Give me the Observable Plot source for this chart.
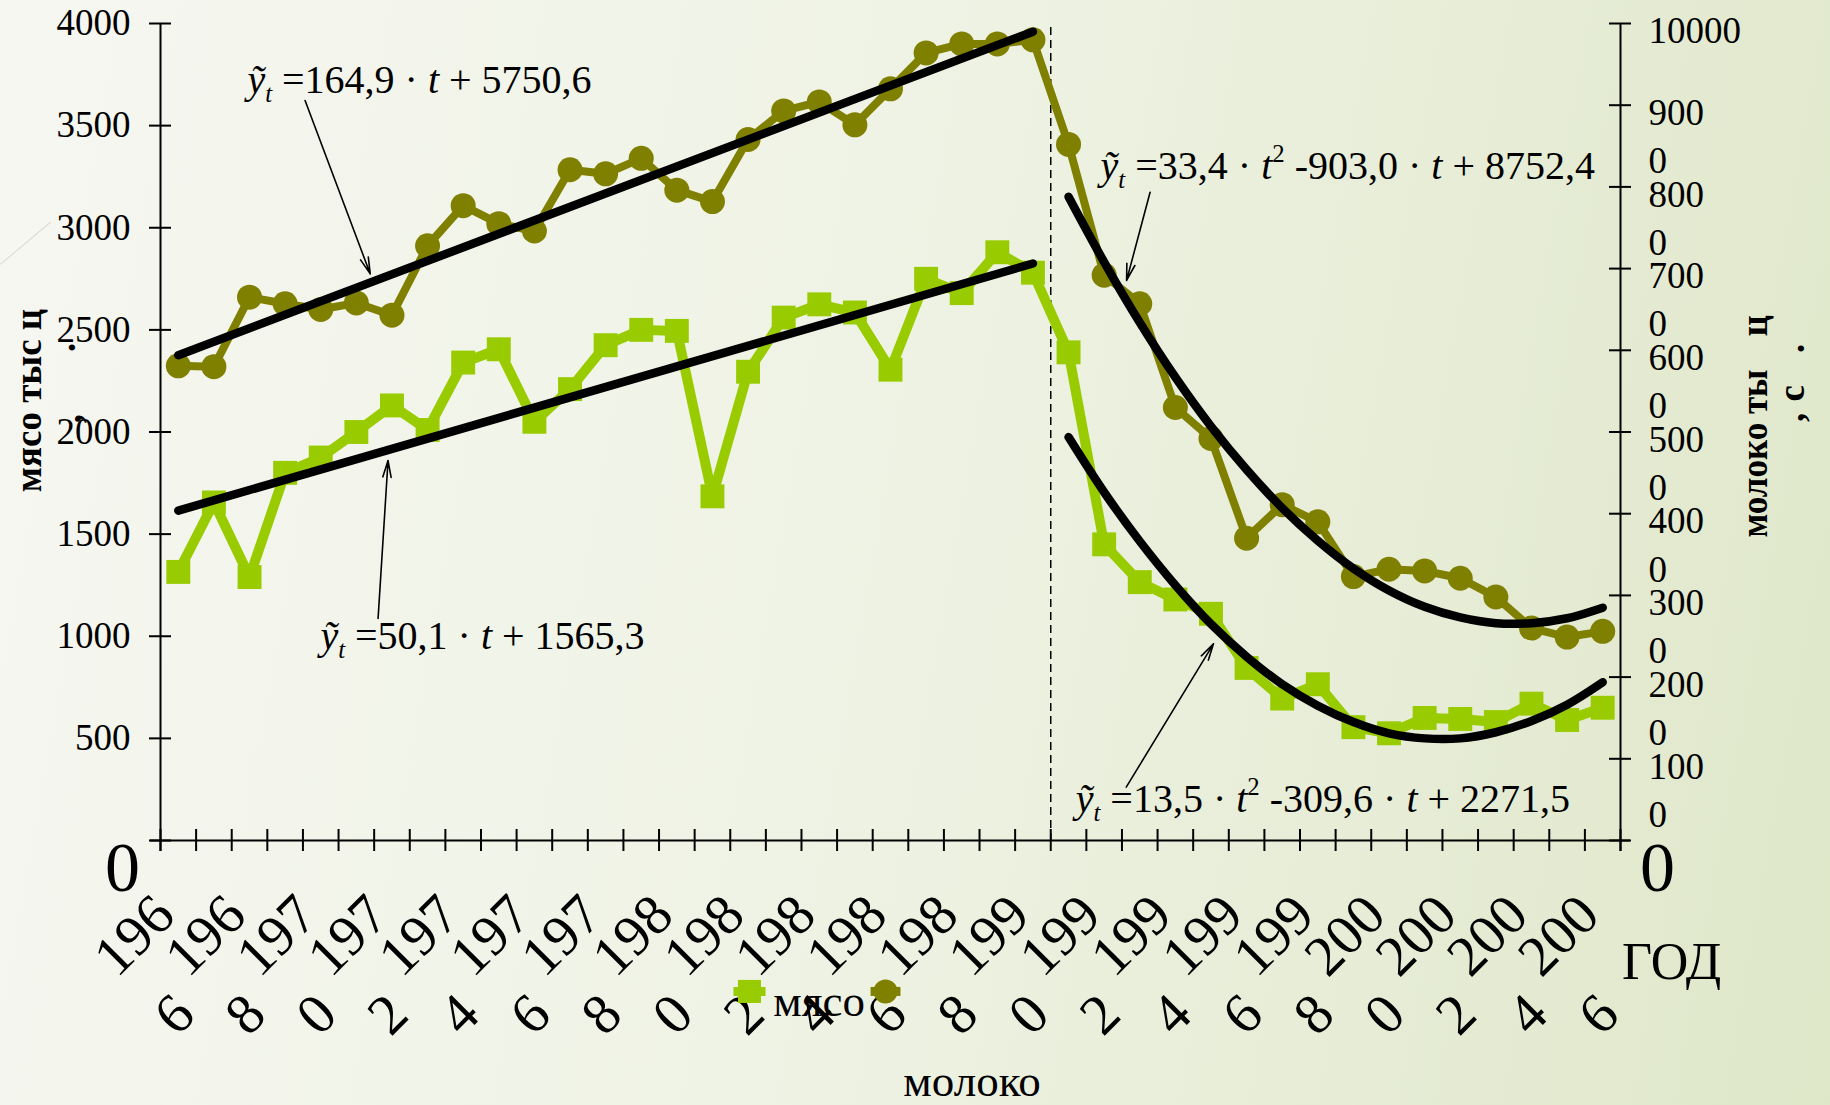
<!DOCTYPE html>
<html lang="ru">
<head>
<meta charset="utf-8">
<script src="https://cdn.jsdelivr.net/npm/d3@7"></script>
<script src="https://cdn.jsdelivr.net/npm/@observablehq/plot@0.6"></script>
<style>
  html, body { margin: 0; padding: 0; }
  body {
    width: 1830px; height: 1105px; overflow: hidden; position: relative;
    background: linear-gradient(100deg, #f6f7f1 0%, #eef2e3 50%, #dfe7c9 100%);
  }
  #chart svg { display: block; }
  #chart svg text { font-family: "Liberation Serif", "Times New Roman", serif; }
  .deco { position: absolute; left: 0; top: 264px; width: 66px; height: 1px;
    background: #d9dad2; transform-origin: 0 0; transform: rotate(-40deg); }
</style>
</head>
<body>
<div class="deco"></div>
<div id="chart"></div>
<script>
// ---------------- data ----------------
const years = d3.range(1966, 2007);
const meat = [1315, 1655, 1290, 1800, 1875, 2000, 2130, 2010, 2340, 2405,
              2050, 2210, 2425, 2500, 2495, 1685, 2295, 2560, 2625, 2585,
              2305, 2750, 2680, 2880, 2780, 2390, 1450, 1265, 1180, 1110,
              845, 695, 765, 555, 525, 600, 595, 580, 670, 590, 650];
const milk = [5810, 5800, 6650, 6570, 6500, 6580, 6430, 7280, 7770, 7550,
              7460, 8210, 8160, 8350, 7960, 7820, 8580, 8930, 9040, 8760,
              9200, 9640, 9750, 9750, 9800, 8520, 6920, 6570, 5300, 4920,
              3700, 4110, 3900, 3230, 3320, 3300, 3210, 2980, 2600, 2490, 2560];

const linYears = [1966, 1990];
const meatLinTrend = [1615, 2825];
const milkLinTrend = [5940, 9900];
const quadYears = d3.range(1991, 2007);
const meatQuadTrend = [1975, 1705, 1465, 1250, 1060, 900, 765, 660, 580, 525, 500, 500, 530, 585, 665, 775];
const milkQuadTrend = [7880, 7080, 6340, 5670, 5070, 4540, 4070, 3670, 3330, 3060, 2860, 2730, 2660, 2660, 2720, 2850];

const labelYears = d3.range(1966, 2007, 2);
const meatTicks = [0, 500, 1000, 1500, 2000, 2500, 3000, 3500, 4000];
const milkTicks = [0, 1000, 2000, 3000, 4000, 5000, 6000, 7000, 8000, 9000, 10000];
const seriesNames = ["мясо", "молоко"];
const xTitle = "ГОД";
const leftTitle = "мясо тыс ц";
const rightTitleA = "молоко ты";
const rightTitleB = "ц";
const equations = [
  "ỹ_t =164,9 · t + 5750,6",
  "ỹ_t =50,1 · t + 1565,3",
  "ỹ_t =33,4 · t^2 -903,0 · t + 8752,4",
  "ỹ_t =13,5 · t^2 -309,6 · t + 2271,5"
];
const breakYear = 1990.5;

// ---------------- annotation positions (data units) ----------------
const MILK_SCALE = 4000 / 10000; // right axis 0..10000 shares the left 0..4000 range
const ann = {
  eq: [{x: 1967.94, y: 3662}, {x: 1969.99, y: 940}, {x: 1991.90, y: 3241}, {x: 1991.20, y: 139}],
  arrows: [
    {x1: 1969.56, y1: 3623, x2: 1971.39, y2: 2774},
    {x1: 1971.61, y1: 1087, x2: 1971.89, y2: 1860},
    {x1: 1993.29, y1: 3174, x2: 1992.63, y2: 2742},
    {x1: 1992.62, y1: 261, x2: 1995.07, y2: 963}
  ],
  legend: [
    {x1: 1981.59, x2: 1982.49, xm: 1982.04, y: -739, tx: 1982.71, ty: -857},
    {x1: 1985.44, x2: 1986.28, xm: 1985.86, y: -739, tx: 1986.36, ty: -1250}
  ],
  leftTitle: {y: 2154, dx: -131},
  leftPunct: [{t: ".", y: 2414, dx: -97}, {t: ",", y: 2066, dx: -91}],
  rightTitleA: {y: 1483, dx: 135},
  rightTitleB: {y: 2520, dx: 135},
  rightPunct: [{t: ",", y: 2071, dx: 172}, {t: "с", y: 2189, dx: 172}, {t: ".", y: 2409, dx: 172}]
};

const meatColor = "#99cc00";
const milkColor = "#808000";

const W = 1830, H = 1105;
const mL = 160, mR = 210, mT = 23, mB = 265;
const frameW = W - mL - mR, frameH = H - mT - mB;

const rows = years.map((year, i) => ({year, meat: meat[i], milk: milk[i]}));
const linRows = linYears.map((year, i) => ({year, meat: meatLinTrend[i], milk: milkLinTrend[i]}));
const quadRows = quadYears.map((year, i) => ({year, meat: meatQuadTrend[i], milk: milkQuadTrend[i]}));
const xTickPos = d3.range(years[0] - 0.5, years[years.length - 1] + 1, 1);

const serif = "'Liberation Serif', 'Times New Roman', serif";
const titleStyle = {rotate: -90, lineAnchor: "middle", fontSize: 37, fontWeight: "bold", fontFamily: serif};

const chart = Plot.plot({
  width: W, height: H,
  marginLeft: mL, marginRight: mR, marginTop: mT, marginBottom: mB,
  style: {background: "transparent", fontFamily: serif, color: "#000", overflow: "visible"},
  x: {type: "linear", domain: [years[0] - 0.5, years[years.length - 1] + 0.5], axis: null},
  y: {type: "linear", domain: [0, 4000], axis: null},
  marks: [
    // break line
    Plot.ruleX([breakYear], {stroke: "#000", strokeWidth: 1.5, strokeDasharray: "8,5", insetTop: 4}),
    // axes lines
    Plot.ruleX([years[0] - 0.5, years[years.length - 1] + 0.5], {stroke: "#000", strokeWidth: 2, insetBottom: -11}),
    Plot.ruleY([0], {stroke: "#000", strokeWidth: 2, insetLeft: -10, insetRight: -10}),
    // tick marks (crossing the axes)
    Plot.tickY(meatTicks, {y: d => d, stroke: "#000", strokeWidth: 2, insetLeft: -11, insetRight: frameW - 11}),
    Plot.tickY(milkTicks, {y: d => d * MILK_SCALE, stroke: "#000", strokeWidth: 2, insetLeft: frameW - 11, insetRight: -11}),
    Plot.tickX(xTickPos, {x: d => d, stroke: "#000", strokeWidth: 2, insetTop: frameH - 11, insetBottom: -11}),

    // series
    Plot.line(rows, {x: "year", y: d => d.milk * MILK_SCALE, stroke: milkColor, strokeWidth: 8, strokeLinejoin: "round"}),
    Plot.dot(rows, {x: "year", y: d => d.milk * MILK_SCALE, r: 12.5, fill: milkColor}),
    Plot.line(rows, {x: "year", y: "meat", stroke: meatColor, strokeWidth: 10, strokeLinejoin: "round"}),
    Plot.dot(rows, {x: "year", y: "meat", r: 13.5, symbol: "square", fill: meatColor}),

    // trends
    Plot.line(linRows, {x: "year", y: d => d.milk * MILK_SCALE, stroke: "#000", strokeWidth: 8.5}),
    Plot.line(linRows, {x: "year", y: "meat", stroke: "#000", strokeWidth: 8.5}),
    Plot.line(quadRows, {x: "year", y: d => d.milk * MILK_SCALE, stroke: "#000", strokeWidth: 8.5, curve: "catmull-rom"}),
    Plot.line(quadRows, {x: "year", y: "meat", stroke: "#000", strokeWidth: 8.5, curve: "catmull-rom"}),

    // equation arrows and labels
    Plot.arrow(ann.arrows, {x1: "x1", y1: "y1", x2: "x2", y2: "y2", stroke: "#000", strokeWidth: 1.6, headLength: 16, headAngle: 28}),
    Plot.text(equations, {x: (d, i) => ann.eq[i].x, y: (d, i) => ann.eq[i].y, text: d => d,
      textAnchor: "start", lineAnchor: "bottom", fontSize: 40, fill: "#000", fontFamily: serif}),

    // left axis labels
    Plot.text(meatTicks.filter(d => d > 0), {y: d => d, text: d => String(d), frameAnchor: "left", dx: -30,
      textAnchor: "end", lineAnchor: "middle", fontSize: 37, fontFamily: serif}),
    Plot.text([0], {y: d => d, text: d => String(d), frameAnchor: "left", dx: -38, dy: 28,
      textAnchor: "middle", lineAnchor: "middle", fontSize: 70, fontFamily: serif}),
    // right axis labels (wrapped like the original)
    Plot.text(milkTicks.filter(d => d > 0), {y: d => d * MILK_SCALE,
      text: d => d === 10000 ? String(d) : `${d / 10}\n0`,
      frameAnchor: "right", dx: 28, dy: -14.4, textAnchor: "start", lineAnchor: "top", lineHeight: 1.3, fontSize: 37, fontFamily: serif}),
    Plot.text([0], {y: d => d, text: d => String(d), frameAnchor: "right", dx: 37, dy: 28,
      textAnchor: "middle", lineAnchor: "middle", fontSize: 70, fontFamily: serif}),

    // x labels (wrapped and rotated)
    Plot.text(labelYears, {x: d => d, text: d => String(d).slice(0, 3), frameAnchor: "bottom", dx: -44, dy: 95,
      rotate: -45, textAnchor: "middle", lineAnchor: "middle", fontSize: 57, fontFamily: serif}),
    Plot.text(labelYears, {x: d => d, text: d => String(d).slice(3), frameAnchor: "bottom", dx: -4, dy: 174,
      rotate: -45, textAnchor: "middle", lineAnchor: "middle", fontSize: 57, fontFamily: serif}),
    Plot.text([xTitle], {text: d => d, frameAnchor: "bottom-right", dx: 51, dy: 138,
      textAnchor: "middle", lineAnchor: "bottom", fontSize: 52, fontFamily: serif}),

    // axis titles (wrapped text with stray punctuation, as in the original)
    Plot.text([leftTitle], {text: d => d, y: () => ann.leftTitle.y, frameAnchor: "left", dx: ann.leftTitle.dx,
      textAnchor: "middle", ...titleStyle}),
    ...ann.leftPunct.map(p => Plot.text([p], {text: "t", y: "y", frameAnchor: "left", dx: p.dx,
      textAnchor: "middle", ...titleStyle})),
    Plot.text([rightTitleA], {text: d => d, y: () => ann.rightTitleA.y, frameAnchor: "right", dx: ann.rightTitleA.dx,
      textAnchor: "start", ...titleStyle}),
    Plot.text([rightTitleB], {text: d => d, y: () => ann.rightTitleB.y, frameAnchor: "right", dx: ann.rightTitleB.dx,
      textAnchor: "middle", ...titleStyle}),
    ...ann.rightPunct.map(p => Plot.text([p], {text: "t", y: "y", frameAnchor: "right", dx: p.dx,
      textAnchor: "middle", ...titleStyle})),

    // legend
    Plot.link(ann.legend, {x1: "x1", x2: "x2", y1: "y", y2: "y", stroke: (d, i) => i === 0 ? meatColor : milkColor, strokeWidth: 9}),
    Plot.dot([ann.legend[0]], {x: "xm", y: "y", r: 13, symbol: "square", fill: meatColor}),
    Plot.dot([ann.legend[1]], {x: "xm", y: "y", r: 12, fill: milkColor}),
    Plot.text(seriesNames, {x: (d, i) => ann.legend[i].tx, y: (d, i) => ann.legend[i].ty, text: d => d,
      textAnchor: "start", lineAnchor: "bottom", fontSize: 45, fontFamily: serif})
  ]
});
document.getElementById("chart").appendChild(chart);

const svgSel = d3.select(chart);

// condensed right-hand title, as in the original
svgSel.selectAll("text").filter(function () { return this.textContent === rightTitleA; })
  .attr("textLength", 168).attr("lengthAdjust", "spacingAndGlyphs");

// equations: rebuild as rich text (italic variables, sub/superscripts)
function buildEq(el, s) {
  const ns = "http://www.w3.org/2000/svg";
  el.textContent = "";
  el.style.whiteSpace = "pre";
  let pending = 0;
  const add = (txt, {italic = false, small = false, shift = 0} = {}) => {
    const t = document.createElementNS(ns, "tspan");
    t.textContent = txt;
    if (italic) t.setAttribute("font-style", "italic");
    if (small) t.setAttribute("font-size", "0.62em");
    const dy = shift - pending;
    if (dy) t.setAttribute("dy", dy);
    pending = shift;
    el.appendChild(t);
  };
  let buf = "";
  const flush = () => { if (buf) { add(buf); buf = ""; } };
  for (let i = 0; i < s.length; i++) {
    const c = s[i];
    if (c === "ỹ" || c === "t") { flush(); add(c, {italic: true}); }
    else if (c === "_") { flush(); add(s[++i], {italic: true, small: true, shift: 9}); }
    else if (c === "^") { flush(); add(s[++i], {small: true, shift: -17}); }
    else buf += c;
  }
  flush();
}
svgSel.selectAll("text").filter(function () { return this.textContent.includes("ỹ"); })
  .each(function () { buildEq(this, this.textContent); });
</script>
</body>
</html>
